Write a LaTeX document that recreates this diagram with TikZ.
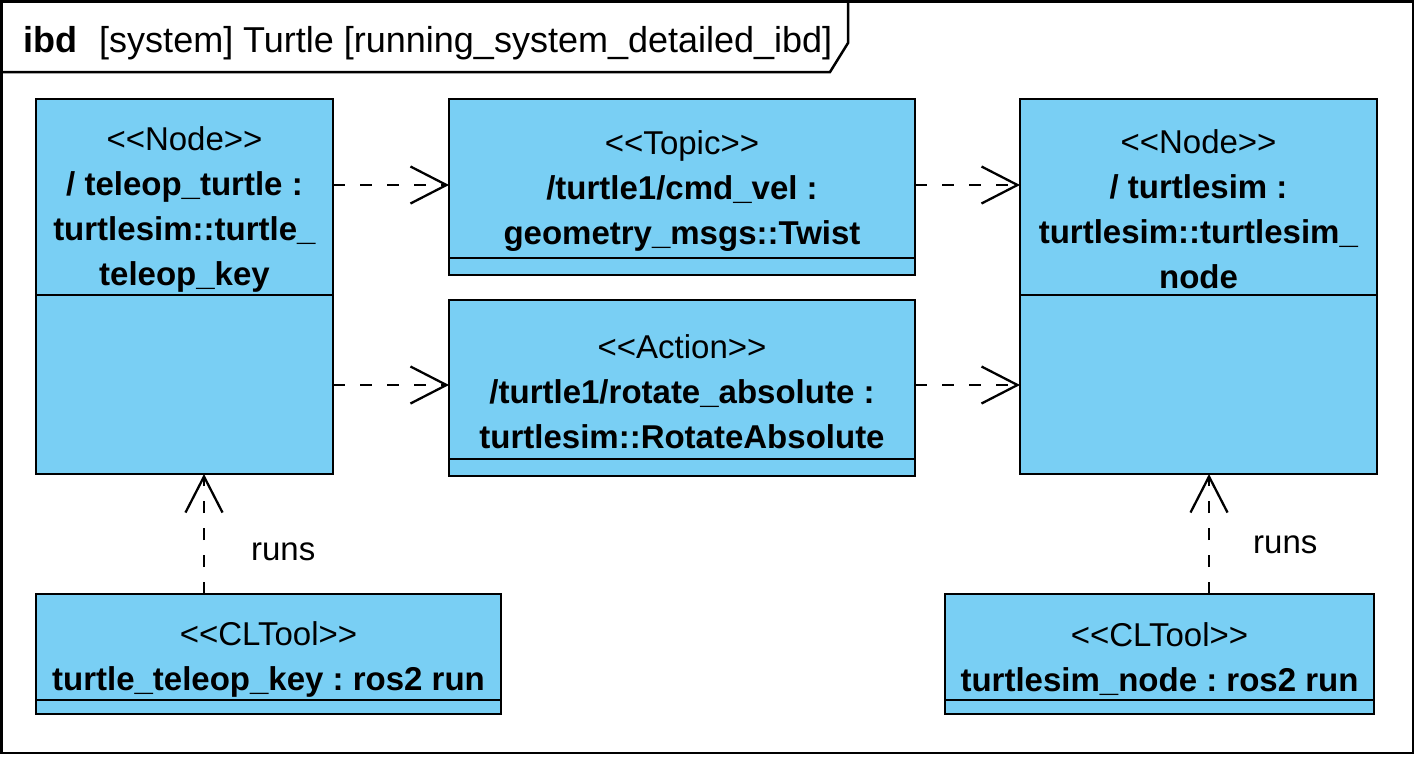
\documentclass[tikz,border=0pt]{standalone}
\usepackage{fontspec}
\setmainfont{Liberation Sans}
\usetikzlibrary{positioning,arrows.meta}
\definecolor{blockblue}{HTML}{79CFF4}
\newcommand{\stereo}[1]{\rule{0pt}{24pt}\textless\kern0pt\textless #1\textgreater\kern0pt\textgreater}
\frenchspacing
\begin{document}
\begin{tikzpicture}[line width=1.25pt,
    part/.style={draw, fill=blockblue, outer sep=0pt, inner sep=0pt, align=center, font=\fontsize{16.5}{22.5}\selectfont},
    dep/.style={line width=1.15pt, dash pattern=on 6pt off 7.5pt, -{Straight Barb[length=18pt,width=18.5pt]}},
    runs/.style={inner sep=0pt, font=\fontsize{16.5}{20}\selectfont}]
        \useasboundingbox (0,0) rectangle (708pt,-378pt);
        \draw (0.65pt,-0.65pt) rectangle (706.5pt,-376.5pt);
        \draw (0.65pt,-36pt) -- (415pt,-36pt) -- (424pt,-21.5pt) -- (424pt,-0.65pt);
        \node (title) [anchor=base west, inner sep=0pt, font=\fontsize{18}{21}\selectfont] at (11pt,-26pt) {\textbf{ibd}\hspace{11pt}[system] Turtle [running\_system\_detailed\_ibd]};

        \node (teleopHead) [part, minimum width=148.5pt, minimum height=98pt, anchor=north west] at (18pt,-49.5pt) {\stereo{Node}\\ \textbf{/ teleop\_turtle :}\\ \textbf{turtlesim::turtle\_}\\ \textbf{teleop\_key}};
        \node (teleopBody) [part, minimum width=148.5pt, minimum height=89.5pt, below=0pt of teleopHead] {};
        \node (topicHead) [part, minimum width=233pt, minimum height=79.5pt, right=58pt of teleopHead.north east, anchor=north west] {\stereo{Topic}\\ \textbf{/turtle1/cmd\_vel :}\\ \textbf{geometry\_msgs::Twist}};
        \node (topicBody) [part, minimum width=233pt, minimum height=8.5pt, below=0pt of topicHead] {};
        \node (actionHead) [part, minimum width=233pt, minimum height=79.5pt, below=12.5pt of topicBody] {\stereo{Action}\\ \textbf{/turtle1/rotate\_absolute :}\\ \textbf{turtlesim::RotateAbsolute}};
        \node (actionBody) [part, minimum width=233pt, minimum height=8.5pt, below=0pt of actionHead] {};
        \node (simHead) [part, minimum width=178.5pt, minimum height=98pt, right=52.5pt of topicHead.north east, anchor=north west] {\stereo{Node}\\ \textbf{/ turtlesim :}\\ \textbf{turtlesim::turtlesim\_}\\ \textbf{node}};
        \node (simBody) [part, minimum width=178.5pt, minimum height=89.5pt, below=0pt of simHead] {};
        \node (keyHead) [part, minimum width=232.5pt, minimum height=53pt, below=60pt of teleopBody.south west, anchor=north west] {\stereo{CLTool}\\ \textbf{turtle\_teleop\_key : ros2 run}};
        \node (keyBody) [part, minimum width=232.5pt, minimum height=7pt, below=0pt of keyHead] {};
        \node (simToolHead) [part, minimum width=214.5pt, minimum height=53pt, below=60pt of simBody.south west, anchor=north west, xshift=-37.5pt] {\stereo{CLTool}\\ \textbf{turtlesim\_node : ros2 run}};
        \node (simToolBody) [part, minimum width=214.5pt, minimum height=7pt, below=0pt of simToolHead] {};

        \coordinate (cmdIn) at ([yshift=-3.25pt]topicHead.west);
        \coordinate (cmdOut) at ([yshift=-3.25pt]topicHead.east);
        \coordinate (rotIn) at ([yshift=-2.75pt]actionHead.west);
        \coordinate (rotOut) at ([yshift=-2.75pt]actionHead.east);
        \coordinate (keyRuns) at ([xshift=9.75pt]teleopBody.south);
        \coordinate (simRuns) at ([xshift=5.25pt]simBody.south);

        \draw[dep] (cmdIn -| teleopHead.east) -- (cmdIn);
        \draw[dep] (cmdOut) -- (cmdOut -| simHead.west);
        \draw[dep] (rotIn -| teleopBody.east) -- (rotIn);
        \draw[dep] (rotOut) -- (rotOut -| simBody.west);
        \draw[dep] (keyRuns |- keyHead.north) -- node[runs, right=23pt, pos=0.35]{runs} (keyRuns);
        \draw[dep] (simRuns |- simToolHead.north) -- node[runs, right=21.5pt, pos=0.41]{runs} (simRuns);
    \end{tikzpicture}
\end{document}
